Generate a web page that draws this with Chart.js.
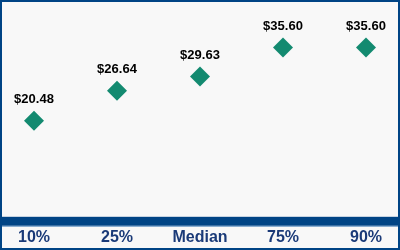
<!DOCTYPE html>
<html>
<head>
<meta charset="utf-8">
<script src="https://cdn.jsdelivr.net/npm/chart.js@4/dist/chart.umd.min.js"></script>
<style>
  html, body { margin: 0; padding: 0; background: #f8f8f8; }
  #wrap { width: 400px; height: 250px; position: relative; }
</style>
</head>
<body>
<div id="wrap"><canvas id="chart"></canvas></div>
<script>
// data
const categories = ['10%', '25%', 'Median', '75%', '90%'];
const salaries = [20.48, 26.64, 29.63, 35.60, 35.60];

const navy = '#004485';
const teal = '#138a70';

// frame + thick base bar
const framePlugin = {
    id: 'frame',
    beforeDraw(chart) {
        const ctx = chart.ctx;
        ctx.save();
        ctx.fillStyle = '#f8f8f8';
        ctx.fillRect(0, 0, chart.width, chart.height);
        ctx.restore();
    },
    beforeDatasetsDraw(chart) {
        const ctx = chart.ctx;
        const y0 = chart.scales.y.getPixelForValue(0);
        ctx.save();
        ctx.fillStyle = navy;
        ctx.fillRect(0, y0 - 3, chart.width, 9);
        ctx.fillStyle = '#6f9cc8';
        ctx.fillRect(0, y0 + 6, chart.width, 1);
        ctx.strokeStyle = navy;
        ctx.lineWidth = 2;
        ctx.strokeRect(1, 1, chart.width - 2, chart.height - 2);
        ctx.restore();
    }
};

// value labels above each diamond
const valueLabels = {
    id: 'valueLabels',
    afterDatasetsDraw(chart) {
        const ctx = chart.ctx;
        const meta = chart.getDatasetMeta(0);
        ctx.save();
        ctx.font = 'bold 13px "Liberation Sans", Arial, sans-serif';
        ctx.fillStyle = '#000';
        ctx.textAlign = 'center';
        ctx.textBaseline = 'middle';
        meta.data.forEach((pt, i) => {
            ctx.fillText('$' + salaries[i].toFixed(2), pt.x, pt.y - 21);
        });
        ctx.restore();
    }
};

new Chart(document.getElementById('chart'), {
    type: 'line',
    data: {
        labels: categories,
        datasets: [{
            data: salaries,
            showLine: false,
            pointStyle: 'rectRot',
            pointRadius: 10,
            pointHoverRadius: 10,
            pointBackgroundColor: teal,
            pointBorderColor: teal,
            pointBorderWidth: 0
        }]
    },
    options: {
        responsive: true,
        maintainAspectRatio: false,
        animation: false,
        events: [],
        layout: { autoPadding: false, padding: { left: 34, right: 34, top: 2, bottom: -5 } },
        plugins: {
            legend: { display: false },
            tooltip: { enabled: false }
        },
        scales: {
            x: {
                offset: false,
                grid: { display: false, drawTicks: false },
                border: { display: false },
                ticks: {
                    color: '#1a3a78',
                    padding: 8,
                    maxRotation: 0,
                    autoSkip: false,
                    font: { family: '"Liberation Sans", Arial, sans-serif', size: 16, weight: 'bold' }
                }
            },
            y: {
                display: false,
                min: 0,
                max: 45
            }
        }
    },
    plugins: [framePlugin, valueLabels]
});
</script>
</body>
</html>
